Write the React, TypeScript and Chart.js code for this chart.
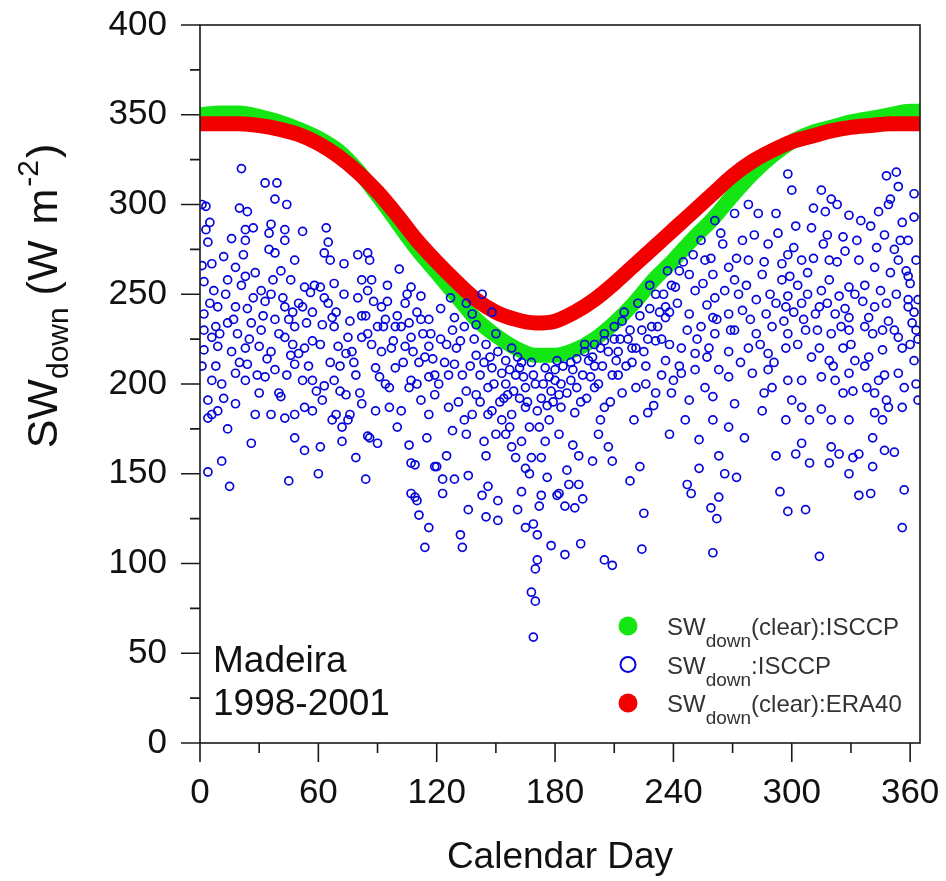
import { Chart, registerables } from 'chart.js';
import { useEffect, useRef } from 'react';

Chart.register(...registerables);

const FONT = 'Arial, "Liberation Sans", sans-serif';

// axis ticks
const xTicks = [0, 60, 120, 180, 240, 300, 360];
const xMinorTicks = [30, 90, 150, 210, 270, 330];
const yTicks = [0, 50, 100, 150, 200, 250, 300, 350, 400];
const yMinorTicks = [25, 75, 125, 175, 225, 275, 325, 375];

// clear-sky bands (centre of each band, read every 10 days)
const bandDays = [0, 10, 20, 30, 40, 50, 60, 70, 80, 90, 100, 110, 120, 130, 140, 150, 160, 170, 180, 190, 200, 210, 220, 230, 240, 250, 260, 270, 280, 290, 300, 310, 320, 330, 340, 350, 360, 365];
const clearIsccp = [350, 351, 351, 349, 346, 342, 337, 330, 319, 305, 290, 275, 262, 249, 236, 227, 220, 216, 216, 219, 225, 234, 245, 258, 269, 281, 292, 305, 317, 327, 335, 340, 343, 346, 348, 350, 352, 352];
const clearEra40 = [345, 345, 345, 344, 342, 339, 334, 327, 318, 307, 294, 280, 268, 257, 247, 240, 236, 234, 235, 240, 247, 256, 266, 276, 286, 296, 306, 316, 324, 330, 335, 338, 341, 343, 344, 345, 345, 345];

// all-sky ISCCP daily values [day, W m-2]
const isccpDays0to59 = [
  [3, 299], [5, 290], [4, 279], [20, 298], [24, 296], [23, 286], [27, 287], [36, 289], [35, 284], [44, 300], [38, 303], [33, 312], [39, 312],
  [43, 286], [52, 285], [16, 281], [23, 280], [35, 275], [43, 280], [38, 273], [48, 269], [22, 272], [12, 271], [6, 267], [1, 266], [18, 265],
  [28, 262], [14, 258], [23, 260], [41, 263], [46, 258], [53, 254], [56, 251], [7, 252], [2, 257], [31, 252], [36, 250], [43, 243], [52, 243],
  [57, 240], [47, 240], [33, 246], [24, 242], [18, 243], [9, 243], [2, 239], [2, 230], [8, 232], [14, 234], [19, 228], [26, 234], [31, 230],
  [38, 236], [43, 226], [48, 232], [57, 224], [2, 219], [9, 221], [16, 218], [23, 220], [30, 221], [36, 218], [46, 216], [50, 217], [53, 220],
  [8, 210], [18, 206], [24, 211], [38, 208], [48, 211], [6, 202], [11, 200], [23, 202], [33, 204], [52, 202], [57, 202], [30, 195], [40, 195],
  [4, 191], [18, 189], [41, 193], [9, 185], [53, 187], [57, 185], [4, 181], [6, 183], [28, 183], [36, 183], [43, 181], [48, 183], [14, 175],
  [48, 170], [26, 167], [53, 163], [11, 157], [4, 151], [45, 146], [15, 143], [21, 320], [1, 300], [3, 286],
  [5, 245], [10, 228], [13, 250], [17, 236], [20, 212], [25, 225], [27, 248], [29, 205], [32, 238], [34, 214], [37, 258], [40, 228],
  [42, 248], [45, 236], [47, 222], [50, 245], [54, 234], [55, 210], [58, 255], [59, 196], [1, 210], [6, 226], [12, 192], [21, 255], [44, 205],
];
const isccpDays60to119 = [
  [64, 287], [65, 279], [63, 273], [73, 267], [80, 272], [85, 273], [86, 269], [66, 269], [101, 264], [87, 258], [82, 258], [68, 256], [61, 254],
  [107, 254], [85, 252], [95, 255], [112, 249], [88, 246], [65, 245], [104, 245], [92, 243], [110, 240], [67, 237], [82, 238], [116, 236],
  [94, 236], [106, 234], [62, 233], [102, 232], [93, 232], [99, 232], [68, 232], [113, 228], [85, 228], [82, 226], [75, 226], [107, 226],
  [70, 221], [104, 221], [116, 221], [77, 218], [92, 218], [97, 220], [74, 217], [118, 214], [111, 212], [71, 210], [89, 209], [99, 209],
  [79, 205], [116, 204], [68, 202], [107, 202], [94, 200], [63, 199], [96, 198], [106, 198], [74, 194], [119, 194], [62, 191], [112, 191],
  [82, 189], [96, 187], [102, 185], [89, 185], [69, 183], [76, 183], [116, 183], [75, 180], [67, 180], [72, 176], [100, 176], [85, 171],
  [86, 170], [115, 170], [90, 167], [72, 168], [106, 166], [107, 156], [61, 165], [79, 159], [109, 155], [119, 154], [60, 150], [84, 147],
  [107, 139], [109, 137], [110, 135], [111, 127], [116, 120], [114, 109],
  [61, 222], [63, 248], [66, 212], [69, 240], [71, 196], [73, 250], [76, 235], [78, 212], [80, 248], [81, 195], [84, 238], [87, 222],
  [90, 232], [91, 204], [95, 246], [98, 224], [100, 238], [103, 212], [105, 250], [108, 218], [110, 200], [112, 236], [114, 215], [117, 228],
  [119, 205],
];
const isccpDays120to179 = [
  [121, 200], [129, 211], [133, 205], [140, 216], [138, 239], [140, 233], [129, 237], [128, 230], [148, 240], [143, 250], [135, 245],
  [127, 248], [122, 242], [125, 222], [132, 224], [145, 222], [150, 228], [158, 220], [148, 209], [155, 213], [162, 209], [175, 209],
  [124, 212], [147, 215], [153, 206], [168, 212], [160, 205], [142, 205], [170, 200], [155, 200], [178, 196], [146, 198], [156, 194],
  [165, 198], [173, 192], [140, 194], [135, 196], [162, 192], [131, 190], [152, 190], [126, 187], [165, 187], [176, 188], [138, 183],
  [146, 183], [158, 183], [153, 180], [177, 180], [167, 176], [172, 176], [128, 174], [135, 172], [150, 172], [155, 172], [144, 168],
  [163, 168], [175, 168], [125, 160], [145, 160], [160, 159], [168, 159], [173, 159], [158, 165], [165, 153], [167, 150], [120, 154],
  [123, 147], [129, 147], [136, 149], [146, 143], [176, 148], [163, 140], [123, 139], [143, 138], [173, 138], [151, 135], [172, 132],
  [136, 130], [161, 130], [145, 126], [151, 124], [169, 122], [165, 120], [132, 116], [171, 116], [178, 110], [133, 109], [171, 102],
  [170, 97], [168, 84], [170, 79], [169, 59],
  [122, 225], [126, 205], [130, 220], [134, 232], [137, 210], [139, 225], [142, 190], [144, 212], [149, 200], [151, 218], [154, 192],
  [157, 208], [159, 196], [161, 215], [164, 204], [166, 190], [169, 205], [171, 185], [174, 200], [177, 204], [179, 190], [163, 212],
  [157, 176], [148, 185], [134, 180],
];
const isccpDays180to239 = [
  [181, 213], [184, 210], [191, 214], [195, 218], [200, 222], [203, 220], [205, 228], [210, 232], [215, 240], [214, 235], [222, 245],
  [228, 255], [231, 250], [236, 243], [233, 240], [237, 263], [224, 230], [236, 237], [205, 224], [219, 220], [231, 224], [195, 222],
  [210, 225], [197, 213], [211, 213], [226, 210], [236, 213], [200, 210], [212, 205], [234, 205], [180, 202], [188, 202], [200, 198],
  [221, 198], [226, 200], [182, 194], [214, 195], [231, 195], [239, 195], [193, 190], [208, 190], [230, 188], [183, 187], [205, 187],
  [190, 184], [227, 184], [203, 180], [220, 180], [182, 172], [202, 172], [238, 172], [189, 166], [207, 165], [192, 160], [199, 157],
  [209, 157], [223, 154], [186, 152], [218, 146], [187, 144], [192, 144], [182, 139], [181, 138], [194, 136], [185, 132], [190, 131],
  [225, 128], [193, 111], [224, 108], [185, 105], [205, 102], [209, 99], [217, 225], [229, 232], [189, 208], [198, 204], [219, 212],
  [238, 222], [212, 218],
  [180, 208], [183, 200], [186, 195], [188, 212], [191, 198], [194, 205], [196, 192], [199, 215], [202, 200], [204, 210], [207, 218],
  [209, 205], [213, 225], [216, 210], [218, 230], [221, 220], [223, 238], [225, 218], [228, 242], [232, 232], [235, 250], [238, 240],
  [239, 255], [234, 225], [227, 225],
];
const isccpDays240to299 = [
  [278, 300], [271, 295], [283, 295], [292, 295], [261, 291], [254, 280], [265, 278], [275, 280], [288, 278], [298, 272], [256, 269],
  [268, 265], [278, 269], [295, 267], [248, 261], [260, 261], [271, 258], [285, 261], [295, 258], [243, 263], [251, 252], [261, 248],
  [273, 250], [282, 247], [292, 245], [298, 249], [248, 239], [260, 237], [268, 239], [275, 241], [287, 239], [297, 243], [254, 232],
  [261, 228], [271, 230], [282, 228], [290, 232], [298, 228], [244, 220], [251, 217], [258, 220], [268, 218], [278, 220], [288, 217],
  [297, 220], [244, 206], [251, 208], [263, 208], [268, 204], [280, 206], [288, 208], [298, 202], [256, 198], [260, 193], [271, 189],
  [286, 195], [290, 198], [248, 191], [297, 180], [246, 180], [253, 169], [263, 160], [260, 180], [268, 176], [247, 144], [249, 139],
  [253, 153], [263, 137], [259, 131], [262, 125], [272, 148], [298, 129], [260, 106], [298, 317], [300, 308], [241, 254], [240, 202],
  [257, 215], [285, 185], [276, 170], [292, 160], [266, 150], [294, 140],
  [242, 245], [245, 268], [247, 230], [250, 272], [252, 225], [255, 256], [257, 244], [259, 270], [262, 236], [264, 284], [266, 252],
  [269, 230], [272, 270], [274, 212], [277, 255], [279, 236], [281, 283], [284, 222], [286, 268], [289, 250], [291, 212], [293, 284],
  [296, 235], [299, 260], [243, 210],
];
const isccpDays300to365 = [
  [348, 316], [353, 318], [354, 310], [362, 306], [350, 303], [349, 300], [315, 308], [320, 303], [323, 300], [311, 298], [317, 296],
  [329, 294], [335, 291], [340, 288], [356, 290], [362, 293], [302, 288], [310, 287], [326, 282], [347, 283], [359, 280], [363, 269],
  [305, 269], [319, 269], [327, 274], [334, 269], [342, 265], [354, 269], [358, 263], [359, 260], [319, 258], [329, 254], [337, 255],
  [353, 250], [359, 247], [308, 250], [315, 252], [324, 249], [332, 250], [342, 243], [348, 245], [359, 243], [364, 247], [305, 245],
  [314, 243], [322, 239], [329, 237], [339, 237], [349, 235], [361, 234], [307, 230], [312, 239], [320, 228], [329, 230], [337, 232],
  [346, 230], [354, 226], [363, 230], [303, 222], [314, 220], [319, 213], [326, 220], [332, 213], [339, 215], [346, 219], [356, 220],
  [362, 213], [305, 202], [315, 204], [322, 202], [329, 206], [337, 210], [344, 202], [354, 206], [363, 200], [300, 191], [305, 187],
  [315, 186], [326, 195], [331, 196], [342, 195], [348, 191], [356, 187], [364, 191], [309, 180], [320, 180], [329, 180], [342, 184],
  [346, 180], [349, 187], [302, 161], [305, 167], [309, 156], [319, 156], [320, 165], [324, 161], [331, 159], [334, 161], [341, 154],
  [341, 170], [347, 163], [352, 162], [329, 150], [307, 130], [334, 138], [340, 139], [357, 141], [356, 120], [314, 104], [301, 240],
  [360, 222], [352, 275], [344, 296], [318, 283],
  [301, 276], [303, 255], [306, 236], [308, 262], [310, 215], [311, 270], [313, 230], [316, 278], [318, 245], [321, 210], [323, 268],
  [325, 232], [327, 242], [330, 222], [333, 280], [336, 246], [338, 198], [341, 228], [343, 276], [345, 252], [347, 205], [350, 262],
  [352, 230], [355, 280], [357, 198], [360, 256], [362, 240], [364, 225],
];

const siteName = 'Madeira';
const sitePeriod = '1998-2001';

const GREEN = '#14e614';
const RED = '#f20000';
const BLUE = '#0505dd';

type Part = { t: string; size: number; dy: number; pad?: number };

const yTitle: Part[] = [
  { t: 'SW', size: 43, dy: 0 },
  { t: 'down', size: 30, dy: 11 },
  { t: ' (W', size: 43, dy: 0, pad: 16 },
  { t: 'm', size: 43, dy: 0, pad: 2 },
  { t: '-2', size: 30, dy: -19, pad: 2 },
  { t: ')', size: 43, dy: 0 },
];

const legendRows: { parts: Part[]; mark: 'fill' | 'ring'; color: string }[] = [
  { parts: [{ t: 'SW', size: 24, dy: 0 }, { t: 'down', size: 19, dy: 12 }, { t: '(clear):ISCCP', size: 24, dy: 0 }], mark: 'fill', color: GREEN },
  { parts: [{ t: 'SW', size: 24, dy: 0 }, { t: 'down', size: 19, dy: 12 }, { t: ':ISCCP', size: 24, dy: 0 }], mark: 'ring', color: BLUE },
  { parts: [{ t: 'SW', size: 24, dy: 0 }, { t: 'down', size: 19, dy: 12 }, { t: '(clear):ERA40', size: 24, dy: 0 }], mark: 'fill', color: RED },
];

const drawParts = (ctx: CanvasRenderingContext2D, parts: Part[], x: number, y: number, centred: boolean) => {
  let w = 0;
  parts.forEach((p) => {
    ctx.font = `${p.size}px ${FONT}`;
    w += ctx.measureText(p.t).width + (p.pad || 0);
  });
  let cx = centred ? x - w / 2 : x;
  parts.forEach((p) => {
    ctx.font = `${p.size}px ${FONT}`;
    ctx.fillText(p.t, cx, y + p.dy);
    cx += ctx.measureText(p.t).width + (p.pad || 0);
  });
};

const decorPlugin = {
  id: 'decor',
  afterDraw(chart: Chart) {
    const { ctx, chartArea: a } = chart;
    const xs = chart.scales.x;
    const ys = chart.scales.y;
    ctx.save();
    ctx.strokeStyle = '#1a1a1a';
    ctx.lineWidth = 1.6;
    ctx.strokeRect(a.left, a.top, a.right - a.left, a.bottom - a.top);
    ctx.beginPath();
    yTicks.forEach((v) => {
      const y = ys.getPixelForValue(v);
      ctx.moveTo(a.left - 19, y);
      ctx.lineTo(a.left, y);
    });
    yMinorTicks.forEach((v) => {
      const y = ys.getPixelForValue(v);
      ctx.moveTo(a.left - 10, y);
      ctx.lineTo(a.left, y);
    });
    xTicks.forEach((v) => {
      const x = xs.getPixelForValue(v);
      ctx.moveTo(x, a.bottom);
      ctx.lineTo(x, a.bottom + 19);
    });
    xMinorTicks.forEach((v) => {
      const x = xs.getPixelForValue(v);
      ctx.moveTo(x, a.bottom);
      ctx.lineTo(x, a.bottom + 10);
    });
    ctx.stroke();

    ctx.fillStyle = '#111';
    ctx.textAlign = 'left';
    ctx.textBaseline = 'alphabetic';

    // y axis title, rotated
    ctx.save();
    ctx.translate(57, 296);
    ctx.rotate(-Math.PI / 2);
    drawParts(ctx, yTitle, 0, 0, true);
    ctx.restore();

    // site label
    ctx.font = `37px ${FONT}`;
    ctx.fillText(siteName, a.left + 13, a.bottom - 71);
    ctx.fillText(sitePeriod, a.left + 13, a.bottom - 28);

    // legend
    const mx = a.right - 292;
    const tx = a.right - 253;
    legendRows.forEach((row, i) => {
      const base = a.bottom - 108 + i * 38.5;
      ctx.beginPath();
      ctx.arc(mx, base - 9, row.mark === 'fill' ? 9.5 : 7.5, 0, Math.PI * 2);
      if (row.mark === 'fill') {
        ctx.fillStyle = row.color;
        ctx.fill();
      } else {
        ctx.strokeStyle = row.color;
        ctx.lineWidth = 2;
        ctx.stroke();
      }
      ctx.fillStyle = '#333';
      drawParts(ctx, row.parts, tx, base, false);
    });
    ctx.restore();
  },
};

const toPoints = (rows: number[][]) => rows.map(([x, y]) => ({ x, y }));

const App: React.FC = () => {
  const ref = useRef<HTMLCanvasElement>(null);
  const chartInstance = useRef<Chart | null>(null);

  useEffect(() => {
    if (!ref.current) return;
    const ctx = ref.current.getContext('2d');
    if (!ctx) return;
    if (chartInstance.current) chartInstance.current.destroy();

    const allSky = [
      ...isccpDays0to59,
      ...isccpDays60to119,
      ...isccpDays120to179,
      ...isccpDays180to239,
      ...isccpDays240to299,
      ...isccpDays300to365,
    ];

    chartInstance.current = new Chart(ctx, {
      type: 'scatter',
      data: {
        datasets: [
          {
            label: 'SWdown:ISCCP',
            data: toPoints(allSky),
            pointStyle: 'circle',
            pointRadius: 4,
            borderWidth: 1.7,
            borderColor: BLUE,
            backgroundColor: 'rgba(0,0,0,0)',
            order: 0,
          },
          {
            label: 'SWdown(clear):ERA40',
            data: bandDays.map((d, i) => ({ x: d, y: clearEra40[i] })),
            showLine: true,
            pointRadius: 0,
            borderWidth: 15,
            borderColor: RED,
            backgroundColor: RED,
            cubicInterpolationMode: 'monotone',
            clip: 0,
            order: 1,
          },
          {
            label: 'SWdown(clear):ISCCP',
            data: bandDays.map((d, i) => ({ x: d, y: clearIsccp[i] })),
            showLine: true,
            pointRadius: 0,
            borderWidth: 15,
            borderColor: GREEN,
            backgroundColor: GREEN,
            cubicInterpolationMode: 'monotone',
            clip: 0,
            order: 2,
          },
        ],
      },
      options: {
        animation: false,
        responsive: false,
        devicePixelRatio: 1,
        layout: { padding: { top: 25, right: 26, left: 0, bottom: 0 } },
        plugins: {
          legend: { display: false },
          tooltip: { enabled: false },
        },
        scales: {
          x: {
            type: 'linear',
            min: 0,
            max: 365,
            afterBuildTicks: (s) => {
              s.ticks = xTicks.map((v) => ({ value: v }));
            },
            afterFit: (s) => {
              s.height = 138;
              s.paddingLeft = 0;
              s.paddingRight = 0;
            },
            grid: { display: false, drawTicks: false },
            border: { display: false },
            ticks: {
              padding: 29,
              color: '#111',
              maxRotation: 0,
              autoSkip: false,
              font: { family: FONT, size: 35 },
            },
            title: {
              display: true,
              text: 'Calendar Day',
              color: '#111',
              font: { family: FONT, size: 37 },
              padding: { top: 0, bottom: 1 },
            },
          },
          y: {
            type: 'linear',
            min: 0,
            max: 400,
            afterBuildTicks: (s) => {
              s.ticks = yTicks.map((v) => ({ value: v }));
            },
            afterFit: (s) => {
              s.width = 200;
              s.paddingTop = 0;
              s.paddingBottom = 0;
            },
            grid: { display: false, drawTicks: false },
            border: { display: false },
            ticks: {
              padding: 33,
              color: '#111',
              font: { family: FONT, size: 35 },
            },
          },
        },
      },
      plugins: [decorPlugin],
    });

    return () => {
      if (chartInstance.current) {
        chartInstance.current.destroy();
        chartInstance.current = null;
      }
    };
  }, []);

  return (
    <div style={{ position: 'fixed', left: 0, top: 0, width: 946, height: 881, background: '#fff' }}>
      <canvas ref={ref} width={946} height={881} />
    </div>
  );
};

export default App;
